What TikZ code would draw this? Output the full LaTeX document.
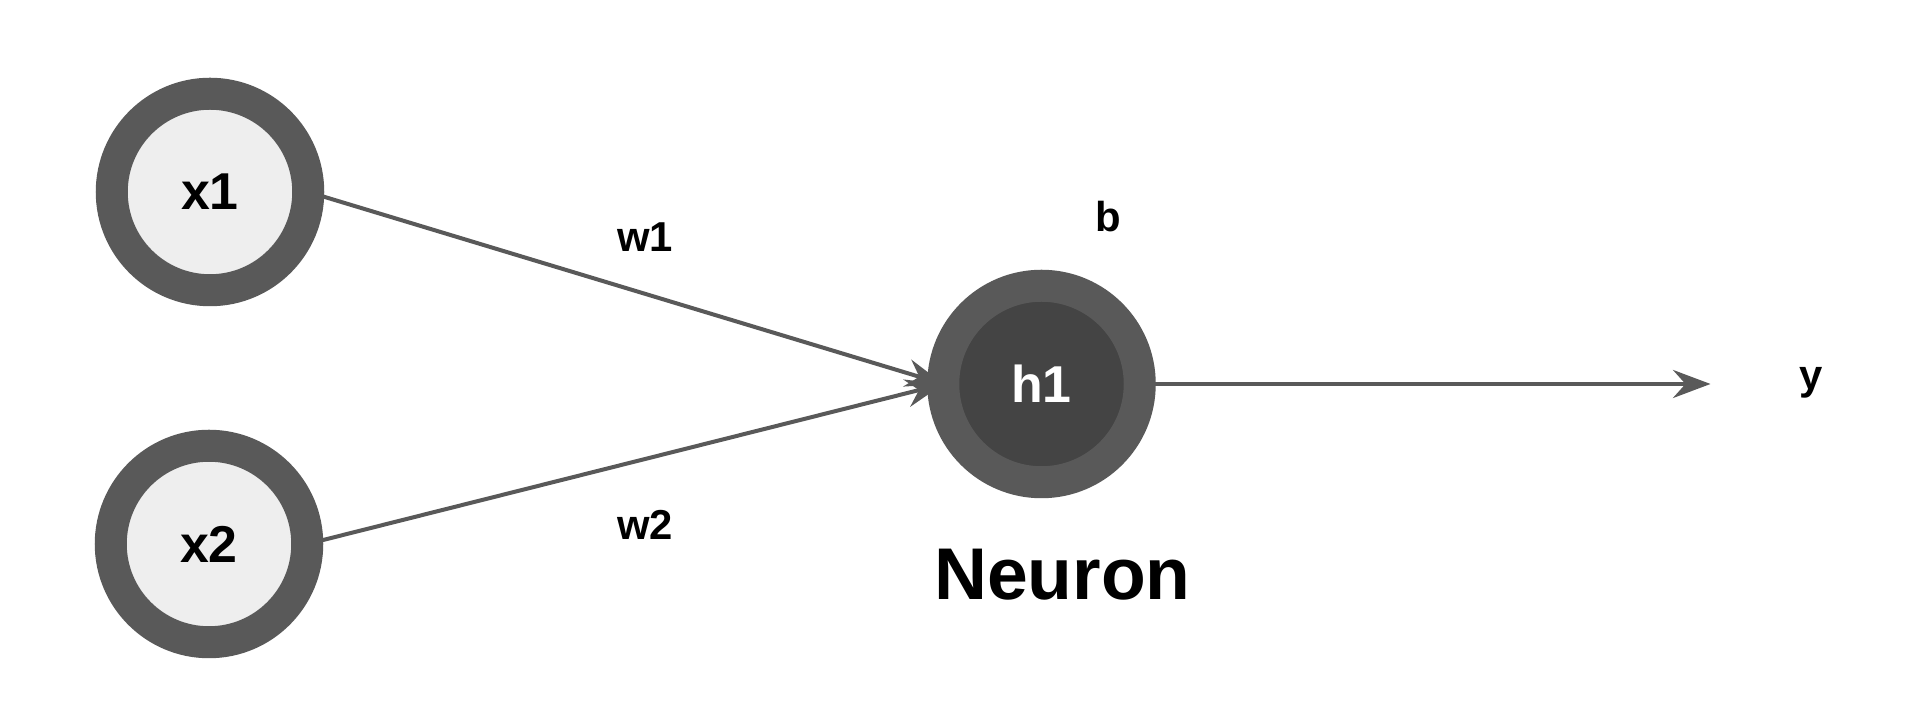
\documentclass[tikz,border=0pt]{standalone}
\usepackage{fontspec}
\setmainfont{Liberation Sans}
\usetikzlibrary{arrows.meta,backgrounds}
\definecolor{ringgray}{HTML}{595959}
\definecolor{lightfill}{HTML}{EEEEEE}
\definecolor{darkfill}{HTML}{444444}

\begin{document}
\begin{tikzpicture}[>={Stealth[length=0.75cm,width=0.56cm,inset=0.25cm]},
  unit/.style={circle,draw=ringgray,line width=0.64cm,minimum size=3.93cm,inner sep=0pt,outer sep=0pt,font=\fontsize{29.5}{30}\selectfont\bfseries},
  inunit/.style={unit,fill=lightfill},
  hidunit/.style={unit,fill=darkfill,text=white},
  wlabel/.style={anchor=base,font=\fontsize{23.8}{24}\selectfont\bfseries},
  link/.style={->,draw=ringgray,fill=ringgray,line width=0.08cm}]
  \useasboundingbox (0,0) rectangle (38.48,14.56);
  \node[inunit] (x1) at (4.20,10.72) {x1};
  \node[inunit] (x2) at (4.18,3.68) {x2};
  \node[hidunit] (h1) at (20.83,6.88) {h1};
  \coordinate (yend) at (34.21,6.88);
  \node[wlabel] (w1) at (12.90,9.53) {w1};
  \node[wlabel] (w2) at (12.90,3.76) {w2};
  \node[wlabel] (b) at (22.16,9.93) {b};
  \node[wlabel] (y) at (36.22,6.76) {y};
  \node[anchor=base,font=\fontsize{41.7}{42}\selectfont\bfseries] (neuron) at (21.25,2.57) {Neuron};
  \begin{scope}[on background layer]
    \fill[white] (0,0) rectangle (38.48,14.56);
    \draw[link] (x1.east) -- (h1.west);
    \draw[link] (x2.east) -- (h1.west);
    \draw[link] (h1.east) -- (yend);
  \end{scope}
\end{tikzpicture}
\end{document}
